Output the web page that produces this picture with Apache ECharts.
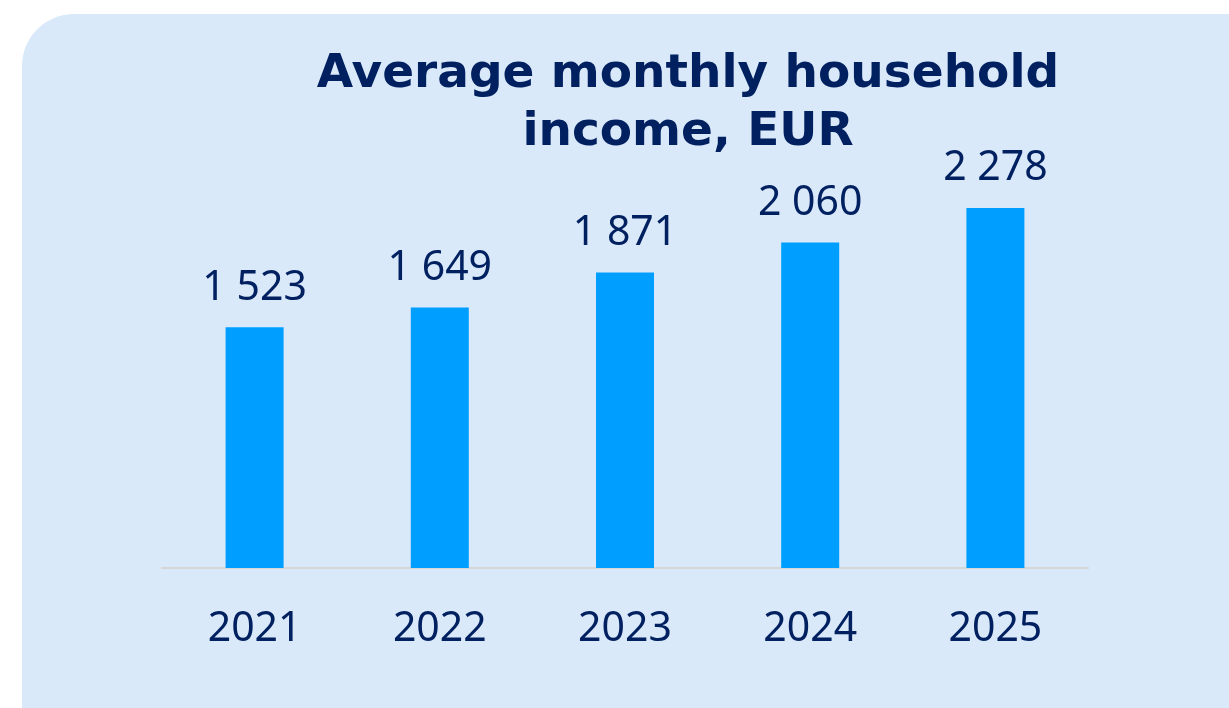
<!DOCTYPE html>
<html>
<head>
<meta charset="utf-8">
<script src="https://cdn.jsdelivr.net/npm/echarts@6/dist/echarts.min.js"></script>
<style>
  html, body { margin: 0; padding: 0; background: #fff; }
  #chart { width: 1229px; height: 708px; }
</style>
</head>
<body>
<div id="chart"></div>
<script>
  // data
  const years = ['2021', '2022', '2023', '2024', '2025'];
  const income = [1523, 1649, 1871, 2060, 2278];

  const navy = '#002060';
  const labelFont = '"Noto Sans", "Open Sans", sans-serif';

  const chart = echarts.init(document.getElementById('chart'));

  const fmt = v => String(v).replace(/\B(?=(\d{3})+(?!\d))/g, ' ');

  const option = {
    backgroundColor: '#ffffff',
    graphic: [{
      type: 'rect',
      z: -10,
      shape: { x: 22, y: 14, width: 1320, height: 800, r: 52 },
      style: { fill: '#D9E9FA' }
    }],
    title: {
      text: 'Average monthly household\nincome, EUR',
      left: 683,
      top: 41,
      textAlign: 'center',
      textStyle: {
        fontFamily: '"DejaVu Sans", Verdana, sans-serif',
        fontWeight: 'bold',
        fontSize: 47,
        lineHeight: 58,
        color: navy
      }
    },
    grid: { left: 162, right: 141, top: 173, bottom: 140 },
    xAxis: {
      type: 'category',
      data: years,
      axisLine: { lineStyle: { color: '#D6D6D6', width: 2 } },
      axisTick: { show: false },
      axisLabel: {
        margin: 41,
        fontFamily: labelFont,
        fontSize: 41,
        color: navy
      }
    },
    yAxis: {
      type: 'value',
      min: 0,
      max: 2500,
      show: false,
      splitLine: { show: false }
    },
    series: [{
      type: 'bar',
      data: income,
      barWidth: 58,
      itemStyle: { color: '#009FFF' },
      label: {
        show: true,
        position: 'top',
        distance: 19,
        formatter: p => fmt(p.value),
        fontFamily: labelFont,
        fontSize: 41,
        color: navy
      }
    }]
  };

  chart.setOption(option);
</script>
</body>
</html>
